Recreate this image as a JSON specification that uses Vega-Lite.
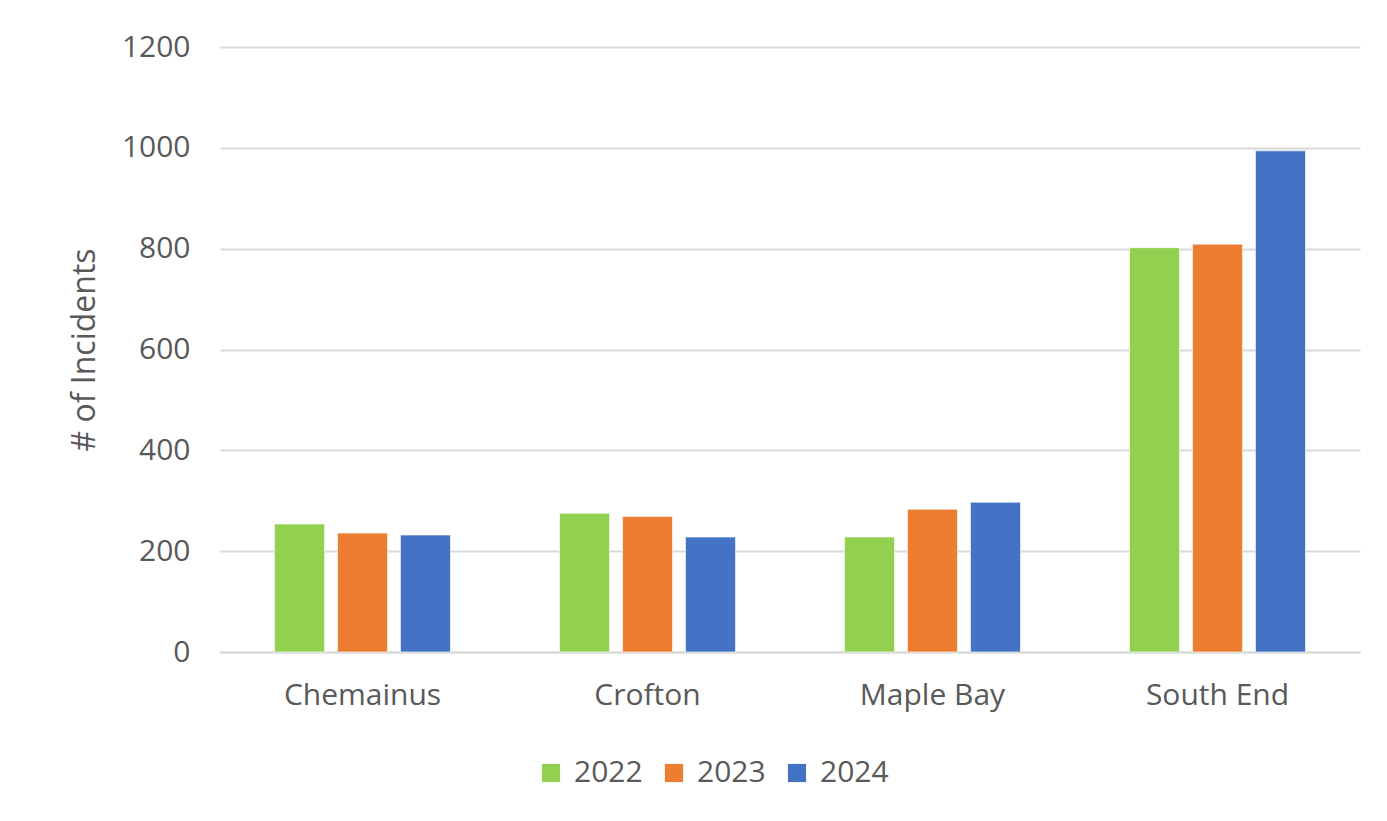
{
  "$schema": "https://vega.github.io/schema/vega-lite/v6.json",
  "autosize": {"type": "none"},
  "width": 1140,
  "height": 605,
  "padding": {"left": 220, "top": 47, "right": 27, "bottom": 169},
  "background": "white",
  "data": {"values": [
    {"area": "Chemainus", "year": "2022", "incidents": 254},
    {"area": "Chemainus", "year": "2023", "incidents": 236},
    {"area": "Chemainus", "year": "2024", "incidents": 232},
    {"area": "Crofton", "year": "2022", "incidents": 275},
    {"area": "Crofton", "year": "2023", "incidents": 269},
    {"area": "Crofton", "year": "2024", "incidents": 228},
    {"area": "Maple Bay", "year": "2022", "incidents": 228},
    {"area": "Maple Bay", "year": "2023", "incidents": 283},
    {"area": "Maple Bay", "year": "2024", "incidents": 297},
    {"area": "South End", "year": "2022", "incidents": 802},
    {"area": "South End", "year": "2023", "incidents": 809},
    {"area": "South End", "year": "2024", "incidents": 994}
  ]},
  "mark": {"type": "bar", "stroke": "white", "strokeWidth": 1, "strokeOpacity": 0.6},
  "encoding": {
    "x": {
      "field": "area", "type": "nominal", "sort": null,
      "scale": {"paddingInner": 0.337, "paddingOuter": 0.1685},
      "axis": {"title": null, "labelAngle": 0, "ticks": false, "domain": true, "domainColor": "#D9D9D9", "domainWidth": 2, "labelPadding": 28, "labelFontSize": 30, "labelColor": "#595959", "labelFont": "Open Sans"}
    },
    "xOffset": {
      "field": "year", "type": "nominal",
      "scale": {"paddingInner": 0.206, "paddingOuter": 0.103}
    },
    "y": {
      "field": "incidents", "type": "quantitative",
      "scale": {"domain": [0, 1200]},
      "axis": {"title": "# of Incidents", "format": "d", "values": [0, 200, 400, 600, 800, 1000, 1200], "domain": false, "ticks": false, "grid": true, "gridColor": "#D9D9D9", "gridWidth": 2, "labelPadding": 30, "labelFontSize": 30, "labelColor": "#595959", "labelFont": "Open Sans", "titleFontSize": 32, "titleFontWeight": "normal", "titleColor": "#595959", "titleFont": "Open Sans", "titlePadding": 20}
    },
    "color": {
      "field": "year", "type": "nominal",
      "scale": {"domain": ["2022", "2023", "2024"], "range": ["#92D050", "#ED7D31", "#4472C4"]},
      "legend": {"title": null, "orient": "none", "direction": "horizontal", "legendX": 316, "legendY": 711, "symbolType": "square", "symbolSize": 330, "symbolStrokeWidth": 0, "labelFontSize": 30, "labelColor": "#595959", "labelFont": "Open Sans", "columnPadding": 16, "labelOffset": 8}
    }
  },
  "config": {"view": {"stroke": null}}
}
